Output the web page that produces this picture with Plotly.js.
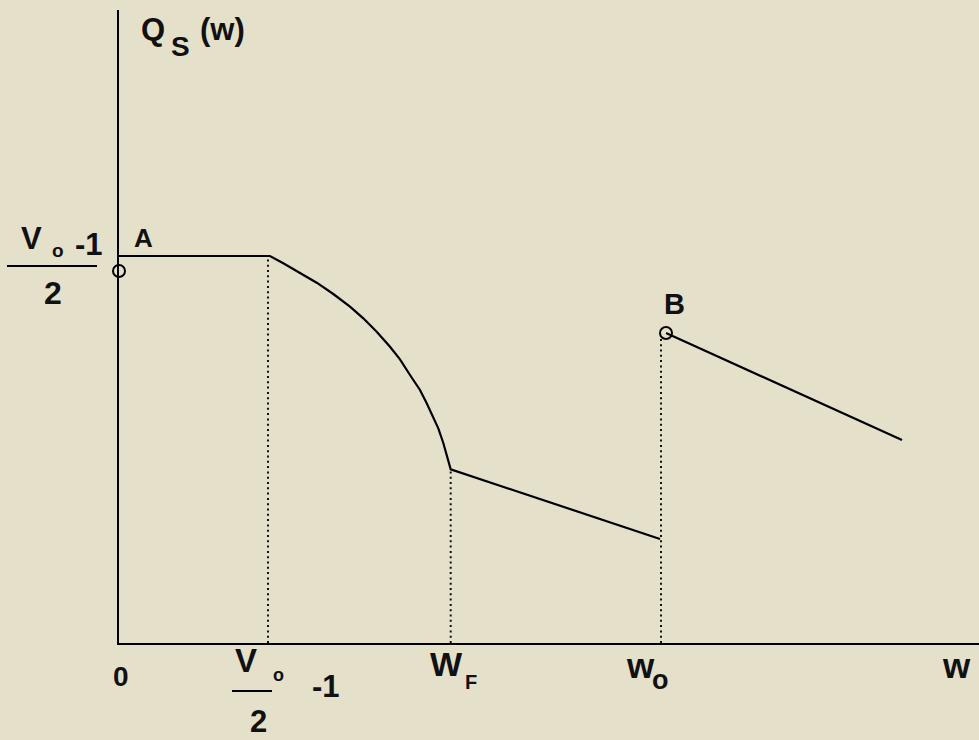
<!DOCTYPE html>
<html>
<head>
<meta charset="utf-8">
<script src="https://cdn.plot.ly/plotly-3.0.1.min.js"></script>
<style>html,body{margin:0;padding:0;background:#e4e0ca;}#chart{width:979px;height:740px;}</style>
</head>
<body>
<div id="chart"></div>
<script>
// Main curve: flat part, concave drop to W_F, then linear down to w_o
const mainX = [0, 1.51, 1.643, 1.81, 1.977, 2.143, 2.31, 2.443, 2.577, 2.71, 2.81, 2.91, 3.01, 3.077, 3.143, 3.193, 3.243, 3.283, 3.317, 5.41];
const mainY = [3.87, 3.87, 3.797, 3.697, 3.603, 3.49, 3.363, 3.247, 3.113, 2.963, 2.837, 2.68, 2.53, 2.397, 2.263, 2.147, 2.0, 1.863, 1.737, 1.04];
// Branch after the jump at w_o (point B)
const branchX = [5.47, 7.83];
const branchY = [3.10, 2.03];
// Open circles A and B
const openX = [0, 5.47];
const openY = [3.72, 3.10];
// Dotted guide lines (x position, top y)
const guideX = [1.49, 3.317, 5.42];
const guideTop = [3.87, 1.737, 3.05];

const W = 979, H = 740, L = 119, R = 0, T = 10, B = 97;
const PW = W - L - R, PH = H - T - B;
const px = v => (v - L) / PW;
const py = v => (H - B - v) / PH;

const traces = [];
traces.push({x: mainX, y: mainY, mode: 'lines', line: {color: '#000', width: 2.2}, cliponaxis: false, hoverinfo: 'skip'});
traces.push({x: branchX, y: branchY, mode: 'lines', line: {color: '#000', width: 2.2}, cliponaxis: false, hoverinfo: 'skip'});
for (let i = 0; i < guideX.length; i++) {
  traces.push({x: [guideX[i], guideX[i]], y: [0, guideTop[i]], mode: 'lines', line: {color: '#111', width: 2, dash: '2px,3.3px'}, hoverinfo: 'skip'});
}
traces.push({x: openX, y: openY, mode: 'markers', marker: {symbol: 'circle-open', size: 12, color: '#000', line: {width: 2, color: '#000'}}, cliponaxis: false, hoverinfo: 'skip'});

const F = 'Liberation Sans, Arial, sans-serif';
function ann(text, cx, cy, size) {
  return {text: '<b>' + text + '</b>', x: px(cx), y: py(cy), xref: 'paper', yref: 'paper', showarrow: false,
          xanchor: 'center', yanchor: 'middle', font: {family: F, size: size, color: '#111'}};
}
const annotations = [
  ann('Q', 153, 30, 31), ann('S', 180, 46, 28), ann('(w)', 222, 30, 31),
  ann('A', 143, 238, 26), ann('B', 674, 304, 29),
  ann('V', 31, 238, 31), ann('o', 58, 251, 19), ann('-1', 89, 244, 31), ann('2', 53, 293, 32),
  ann('0', 121, 676, 28),
  ann('V', 246, 660, 33), ann('o', 278, 675, 18), ann('2', 258, 721, 31), ann('-1', 326, 686, 31),
  ann('W', 446, 664, 34), ann('F', 471, 682, 20),
  ann('w', 640, 665, 35), ann('o', 660, 680, 27),
  ann('w', 956, 665, 35)
];
const shapes = [
  {type: 'line', xref: 'paper', yref: 'paper', x0: px(7), x1: px(97), y0: py(266), y1: py(266), line: {color: '#000', width: 2}},
  {type: 'line', xref: 'paper', yref: 'paper', x0: px(232), x1: px(272), y0: py(691), y1: py(691), line: {color: '#000', width: 2}}
];

const layout = {
  width: W, height: H,
  margin: {l: L, r: R, t: T, b: B, pad: 0},
  paper_bgcolor: '#e4e0ca', plot_bgcolor: '#e4e0ca',
  showlegend: false,
  xaxis: {range: [0, 8.6], showline: true, linecolor: '#000', linewidth: 2.4, showgrid: false, zeroline: false, showticklabels: false, ticks: ''},
  yaxis: {range: [0, 6.33], showline: true, linecolor: '#000', linewidth: 2.4, showgrid: false, zeroline: false, showticklabels: false, ticks: ''},
  annotations: annotations,
  shapes: shapes
};
Plotly.newPlot('chart', traces, layout, {displayModeBar: false, staticPlot: true});
</script>
</body>
</html>
